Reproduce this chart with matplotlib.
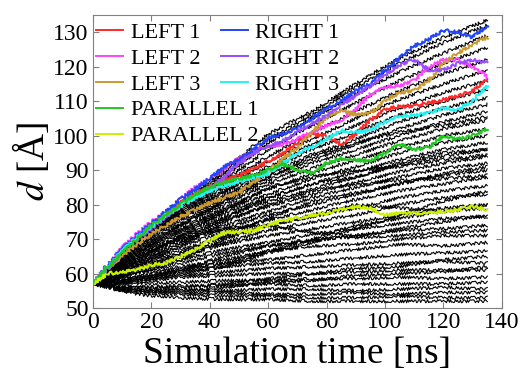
import matplotlib
matplotlib.use("Agg")
import matplotlib.pyplot as plt
from matplotlib.lines import Line2D
import numpy as np

plt.rcParams['font.family'] = ['Liberation Serif', 'DejaVu Serif']
plt.rcParams['mathtext.fontset'] = 'stix'

# colored trajectories, sampled every 5 ns
t_col = np.arange(0, 136, 5)
left1 = [57, 62, 66.5, 70.5, 74, 77.5, 80.5, 83, 85, 87, 88.5, 90.5, 92.5, 95,
         98, 100.5, 100, 97.5, 100.5, 104.5, 107.5, 108.5, 108.5, 109.5, 110.5, 111.5, 113, 116.5]
left2 = [57, 62.5, 67.5, 71.5, 75, 78, 81.5, 85, 87.5, 90.5, 93.5, 95.5, 97, 97.5,
         99, 101, 103, 104.5, 107.5, 112, 114, 114.5, 116, 120, 122, 122, 120, 117]
left3 = [57, 61.5, 65, 68.5, 71.5, 74, 76.5, 78.5, 80.5, 82, 83.5, 86.5, 89.5, 93.5,
         96.5, 101, 105.5, 107.5, 106, 106.5, 110, 112.5, 113, 116, 121, 124, 126.5, 128.5]
right1 = [57, 62.5, 67, 71, 74.5, 78, 81.5, 84.5, 87.5, 91, 93, 96, 99.5, 100.5,
          102, 105, 108, 110, 113, 115, 119, 122.5, 126, 128, 130.5, 130, 128.5, 132]
right2 = [57, 61.5, 66, 70, 73, 76.5, 79.5, 82, 84.5, 88, 92, 95, 97, 98.5,
          101, 103.5, 106, 109, 111.5, 114.5, 117.5, 120.5, 122, 119, 119, 121, 122, 121]
right3 = [57, 62, 66.5, 70.5, 73.5, 77, 79.5, 82, 84, 85.5, 86.5, 88, 89, 92,
          95, 96.5, 99, 101.5, 101, 101.5, 104, 105.5, 106, 106.5, 108, 107.5, 110, 114.5]
parallel1 = [57, 62, 66, 70, 74, 77, 80, 83, 85, 86.5, 87.5, 88.5, 90, 92,
             90, 89, 92, 93.5, 93, 92.5, 95, 97.5, 96, 96.5, 100, 99, 100, 102]
parallel2 = [57, 60, 60.5, 61, 62.5, 63, 65, 67, 69.5, 72, 72, 72.5, 74, 75.5,
             76, 77, 77.5, 78.5, 79.5, 79, 77, 77.5, 77.5, 77.5, 78, 78.5, 79.5, 78.5]

# black trajectories, sampled every 15 ns
t_blk = np.arange(0, 136, 15)
black = [
    [57, 54, 53, 52.5, 52.5, 52, 52, 52, 52, 52],
    [57, 54.5, 54, 53.5, 53.5, 53, 53, 53.5, 53, 53],
    [57, 55, 54.5, 54.5, 54, 54, 54.5, 54, 54.5, 54.5],
    [57, 55.5, 55.5, 55, 55.5, 55.5, 55, 55.5, 56, 55.5],
    [57, 56, 56.5, 56.5, 57, 56.5, 57, 57, 57, 57.5],
    [57, 57, 57.5, 58, 58, 58.5, 58.5, 59, 58.5, 59],
    [57, 57.5, 59, 59.5, 60, 60, 60.5, 61, 61, 61],
    [57, 58, 59.5, 60.5, 61.5, 62, 62.5, 63, 63.5, 63],
    [57, 58.5, 60.5, 62, 63, 63.5, 64.5, 65.5, 66, 66.5],
    [57, 59, 61.5, 63, 64, 65.5, 67, 68.5, 68, 69],
    [57, 60, 62, 64, 66.5, 68, 68.5, 70, 71, 71],
    [57, 60.5, 63, 66, 68, 69.5, 71, 72.5, 73, 74],
    [57, 61, 64, 67, 69, 71.5, 73, 74.5, 76, 76.5],
    [57, 61.5, 65, 68.5, 71, 73, 75, 77, 79, 80],
    [57, 62, 66, 69, 72.5, 75, 77, 80, 82, 83],
    [57, 62.5, 67, 70.5, 74, 76.5, 79, 82, 84, 85.5],
    [57, 63, 68, 72, 75.5, 78.5, 81.5, 84, 86, 88],
    [57, 63.5, 69, 73, 77, 80, 83, 86, 88.5, 90],
    [57, 64, 70, 74, 78, 82, 85, 88, 90.5, 92],
    [57, 64.5, 70.5, 75.5, 79.5, 83, 86.5, 89.5, 92, 94],
    [57, 65, 71, 76.5, 81, 84.5, 88, 91.5, 94, 96],
    [57, 65.5, 72, 77.5, 82, 86, 89.5, 93, 96, 98],
    [57, 66, 72.5, 78.5, 83, 87.5, 91, 95, 98, 100],
    [57, 66.5, 73, 79, 84.5, 89, 93, 96.5, 100, 102],
    [57, 67, 74, 80, 86, 90.5, 94.5, 98.5, 102, 104.5],
    [57, 67.5, 74.5, 81, 87, 92, 96, 100, 104, 107],
    [57, 68, 75.5, 82, 88, 93, 97.5, 102, 106, 109],
    [57, 68.5, 76, 82.5, 89, 94.5, 99, 104, 108, 111],
    [57, 69, 76.5, 83.5, 90, 96, 101, 106, 110, 113.5],
    [57, 69, 77, 84, 91, 97.5, 103, 108, 112.5, 116],
    [57, 69.5, 77.5, 85, 92.5, 99, 105, 110.5, 115, 119],
    [57, 69.5, 78, 86, 94, 101, 107, 113, 118, 122],
    [57, 70, 78.5, 87, 96, 103, 109.5, 116, 121, 125.5],
    [57, 70, 79, 88, 98, 105, 112, 118.5, 124, 129],
    [57, 70.5, 79.5, 89, 99, 106, 114, 121, 127, 132],
    [57, 70.5, 80, 90, 100.5, 107, 115, 122.5, 128.5, 133.5],
    [57, 60, 64, 70, 74, 72, 71, 73, 75, 77],
    [57, 65, 70, 73, 74, 77, 80, 79, 78, 80],
    [57, 62, 68, 75, 80, 84, 86, 87, 87.5, 88.5],
    [57, 63, 69, 76, 82, 86, 88, 92, 95, 96],
    [57, 58, 60, 62, 66, 69, 73, 77, 81, 84],
    [57, 59, 61, 63, 66.5, 70, 74, 76, 78, 79],
    [57, 56, 56, 57, 58.5, 60, 61.5, 62, 64, 65],
    [57, 58, 61, 65, 68, 70, 70.5, 71, 72, 72.5],
    [57, 64, 71, 78, 85, 88, 90, 91, 93, 94.5],
    [57, 66, 74, 81, 88, 94, 98, 101, 103, 105.5],
    [57, 55, 55, 56, 57.5, 58, 59.5, 60, 60.5, 62],
    [57, 61, 66, 71, 76, 81, 83.5, 86, 89, 91],
]

series = [
    ("LEFT 1", left1, "#ff2a2a"),
    ("LEFT 2", left2, "#ff44ff"),
    ("LEFT 3", left3, "#cc9a33"),
    ("RIGHT 1", right1, "#2244ff"),
    ("RIGHT 2", right2, "#9a4cff"),
    ("RIGHT 3", right3, "#22f2f2"),
    ("PARALLEL 1", parallel1, "#22c822"),
    ("PARALLEL 2", parallel2, "#ccf000"),
]

fig = plt.figure(figsize=(5.19, 3.73), dpi=100)
ax = fig.add_axes([0.179, 0.174, 0.788, 0.786])

for b in black:
    ln, = ax.plot(t_blk, b, color="black", lw=0.8)
    ln.set_sketch_params(1.6, 2, 3)

colors = {}
for name, vals, col in series:
    ln, = ax.plot(t_col, vals, color=col, lw=1.4)
    ln.set_sketch_params(1.6, 2, 3)
    colors[name] = col

ax.set_xlim(0, 140)
ax.set_ylim(50, 135)
ax.set_xticks(range(0, 141, 20))
ax.set_yticks(range(50, 131, 10))
ax.tick_params(direction="in", top=True, right=True, length=4, width=0.8,
               labelsize=17, colors="#808080", labelcolor="black", pad=3)
for s in ax.spines.values():
    s.set_color("#808080")
    s.set_linewidth(0.8)

ax.set_xlabel("Simulation time [ns]", fontsize=27, labelpad=2)
ax.set_ylabel(r"$d$ [Å]", fontsize=27, labelpad=1)


def handle(name):
    return Line2D([], [], color=colors[name], lw=1.4)


names1 = ["LEFT 1", "LEFT 2", "LEFT 3", "PARALLEL 1", "PARALLEL 2"]
names2 = ["RIGHT 1", "RIGHT 2", "RIGHT 3"]
kw = dict(frameon=False, fontsize=16, handlelength=1.2, handletextpad=0.35,
          labelspacing=0.24, borderpad=0, borderaxespad=0, loc="upper left")
leg1 = ax.legend([handle(n) for n in names1], names1, bbox_to_anchor=(0.008, 0.975), **kw)
ax.add_artist(leg1)
ax.legend([handle(n) for n in names2], names2, bbox_to_anchor=(0.313, 0.975), **kw)

fig.savefig("out.png", dpi=100)
